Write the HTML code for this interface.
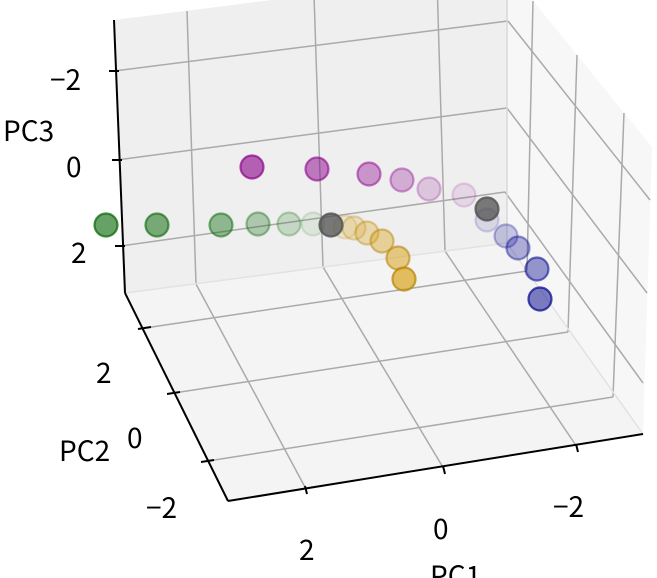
<!DOCTYPE html>
<html><head><meta charset="utf-8"><style>
html,body{margin:0;padding:0;background:#fff;}
svg{display:block;}
text{font-family:"Noto Sans CJK JP","DejaVu Sans",sans-serif;fill:#000;}
</style></head><body>
<svg width="657" height="578" viewBox="0 0 657 578" xmlns="http://www.w3.org/2000/svg">
<polygon points="114,20 508,-30 507,243 125,293" fill="#efefef"/>
<polygon points="508,-30 652,147 643,434 507,243" fill="#f7f7f7"/>
<polygon points="125,293 507,243 643,434 228,501" fill="#f4f4f4"/>
<g stroke="#aaaaaa" stroke-width="1.5" fill="none">
<line x1="114" y1="71" x2="508" y2="21"/>
<line x1="117" y1="160" x2="507" y2="108"/>
<line x1="121" y1="246" x2="505" y2="192"/>
<line x1="187" y1="11" x2="196" y2="284"/>
<line x1="314" y1="-5" x2="323" y2="267"/>
<line x1="437" y1="-20" x2="445" y2="251"/>
<line x1="508" y1="21" x2="650" y2="200"/>
<line x1="507" y1="108" x2="647" y2="293"/>
<line x1="505" y1="192" x2="643" y2="383"/>
<line x1="533" y1="1" x2="527" y2="271"/>
<line x1="577" y1="55" x2="568" y2="332"/>
<line x1="624" y1="113" x2="613" y2="397"/>
<line x1="145" y1="328" x2="527" y2="271"/>
<line x1="174" y1="393" x2="568" y2="332"/>
<line x1="208" y1="461" x2="613" y2="397"/>
<line x1="196" y1="284" x2="306" y2="489"/>
<line x1="323" y1="267" x2="444" y2="469"/>
<line x1="445" y1="251" x2="577" y2="447"/>
<line x1="507" y1="-30" x2="507" y2="243" stroke="#d8d8d8"/>
<line x1="125" y1="293" x2="507" y2="243" stroke="#e2e2e2"/>
<line x1="507" y1="243" x2="643" y2="434" stroke="#e2e2e2"/>
</g>
<g stroke="#000" stroke-width="2" fill="none">
<line x1="114" y1="20" x2="125" y2="293"/>
<line x1="125" y1="293" x2="228" y2="501"/>
<line x1="228" y1="501" x2="643" y2="434"/>
<line x1="109" y1="71" x2="119" y2="71"/>
<line x1="112" y1="160" x2="122" y2="160"/>
<line x1="115" y1="246" x2="125" y2="246"/>
<line x1="138" y1="329" x2="151" y2="327"/>
<line x1="167" y1="394" x2="180" y2="392"/>
<line x1="201" y1="462" x2="214" y2="460"/>
<line x1="305" y1="486" x2="307" y2="494"/>
<line x1="443" y1="466" x2="445" y2="474"/>
<line x1="576" y1="444" x2="578" y2="452"/>
</g>
<g stroke-width="2.2">
<g fill="#006400" stroke="#006400">
<circle cx="313" cy="224" r="11.5" fill-opacity="0.08" stroke-opacity="0.12"/>
<circle cx="289" cy="224" r="11.5" fill-opacity="0.18" stroke-opacity="0.25"/>
<circle cx="258" cy="224" r="11.5" fill-opacity="0.28" stroke-opacity="0.38"/>
<circle cx="221" cy="225" r="11.5" fill-opacity="0.4" stroke-opacity="0.5"/>
<circle cx="157" cy="225" r="11.5" fill-opacity="0.5" stroke-opacity="0.6"/>
<circle cx="106" cy="225" r="11.5" fill-opacity="0.6" stroke-opacity="0.7"/>
</g>
<g fill="#8b008b" stroke="#8b008b">
<circle cx="464" cy="195" r="11.5" fill-opacity="0.1" stroke-opacity="0.15"/>
<circle cx="429" cy="189" r="11.5" fill-opacity="0.18" stroke-opacity="0.25"/>
<circle cx="402" cy="180" r="11.5" fill-opacity="0.28" stroke-opacity="0.38"/>
<circle cx="369" cy="174" r="11.5" fill-opacity="0.38" stroke-opacity="0.5"/>
<circle cx="317" cy="169" r="11.5" fill-opacity="0.5" stroke-opacity="0.6"/>
<circle cx="252" cy="167" r="11.5" fill-opacity="0.6" stroke-opacity="0.7"/>
</g>
<g fill="#daa520" stroke="#b8860b">
<circle cx="345" cy="227" r="11.5" fill-opacity="0.15" stroke-opacity="0.2"/>
<circle cx="354" cy="228" r="11.5" fill-opacity="0.22" stroke-opacity="0.3"/>
<circle cx="367" cy="233" r="11.5" fill-opacity="0.32" stroke-opacity="0.4"/>
<circle cx="382" cy="241" r="11.5" fill-opacity="0.42" stroke-opacity="0.5"/>
<circle cx="398" cy="258" r="11.5" fill-opacity="0.55" stroke-opacity="0.6"/>
<circle cx="404" cy="279" r="11.5" fill-opacity="0.7" stroke-opacity="0.75"/>
</g>
<g fill="#00008b" stroke="#00008b">
<circle cx="487" cy="220" r="11.5" fill-opacity="0.1" stroke-opacity="0.15"/>
<circle cx="506" cy="236" r="11.5" fill-opacity="0.2" stroke-opacity="0.28"/>
<circle cx="518" cy="248" r="11.5" fill-opacity="0.3" stroke-opacity="0.4"/>
<circle cx="537" cy="269" r="11.5" fill-opacity="0.4" stroke-opacity="0.55"/>
<circle cx="540" cy="299" r="11.5" fill-opacity="0.5" stroke-opacity="0.7"/>
</g>
<circle cx="331" cy="225" r="11.5" fill="#505050" fill-opacity="0.75" stroke="#505050" stroke-opacity="0.8"/>
<circle cx="487" cy="209" r="11.5" fill="#505050" fill-opacity="0.75" stroke="#505050" stroke-opacity="0.8"/>
</g>
<g font-size="28">
<text x="50" y="90">−2</text>
<text x="66" y="177">0</text>
<text x="71" y="263">2</text>
<text x="3" y="141">PC3</text>
<text x="96" y="383">2</text>
<text x="127" y="448">0</text>
<text x="146" y="518">−2</text>
<text x="59" y="461">PC2</text>
<text x="299" y="560">2</text>
<text x="433" y="539">0</text>
<text x="553" y="517">−2</text>
<text x="430" y="586">PC1</text>
</g>
</svg>
</body></html>
